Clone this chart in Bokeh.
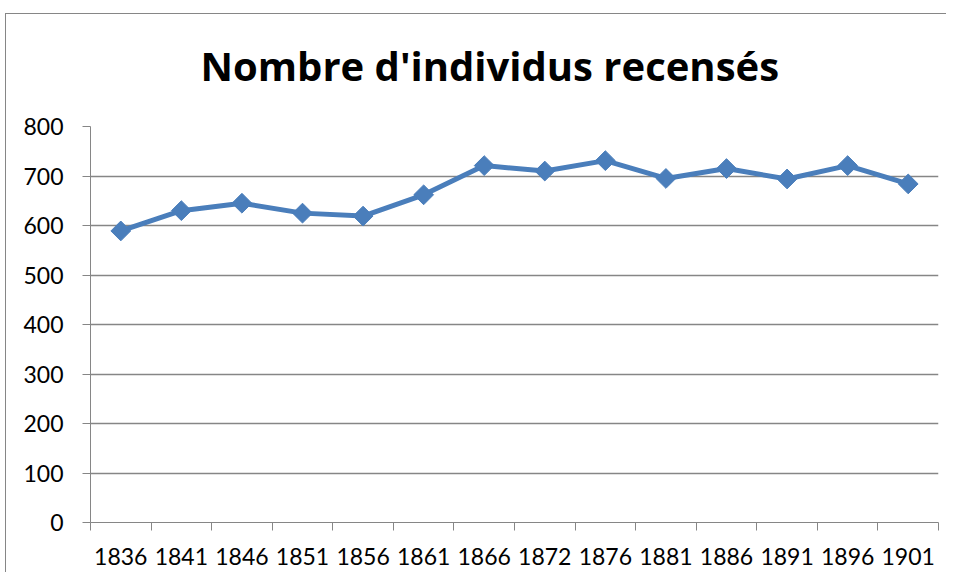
import numpy as np
from bokeh.plotting import figure
from bokeh.models import FixedTicker, Range1d, Title, ColumnDataSource
from bokeh.embed import file_html
from bokeh.resources import INLINE

years = ["1836", "1841", "1846", "1851", "1856", "1861", "1866",
         "1872", "1876", "1881", "1886", "1891", "1896", "1901"]
counts = [589, 630, 645, 625, 619, 662, 721, 710, 731, 695, 715, 694, 721, 684]
y_ticks = [0, 100, 200, 300, 400, 500, 600, 700, 800]
title_text = "Nombre d'individus recensés"

LINE_COLOR = "#4A7EBB"
GRID = "#868686"
FONT = "Lato"
TITLE_FONT = "Open Sans"

n = len(years)
xpos = np.arange(n) + 0.5
src = ColumnDataSource(dict(x=xpos, y=counts, year=years))

W, H = 941, 572
p = figure(width=W, height=H, output_backend="svg", toolbar_location=None,
           x_range=Range1d(0, n), y_range=Range1d(0, 800),
           min_border_left=85, min_border_right=8, min_border_top=126,
           min_border_bottom=50)
p.margin = (0, 0, 0, 5)
p.outline_line_color = None
p.background_fill_color = "white"
p.border_fill_color = None

t = Title(text=title_text, align="left",
          text_font=TITLE_FONT, text_font_size="40px", text_font_style="bold",
          text_color="black", offset=110, standoff=68)
p.add_layout(t, "above")

p.line("x", "y", source=src, line_color=LINE_COLOR, line_width=5)
p.scatter("x", "y", source=src, marker="square", angle=np.pi / 4, size=14,
          fill_color=LINE_COLOR, line_color=LINE_COLOR)

# x axis: labels at centres, tick marks at category boundaries
p.xaxis.ticker = FixedTicker(ticks=list(xpos), minor_ticks=list(range(n + 1)))
p.xaxis.major_label_overrides = {float(x): yr for x, yr in zip(xpos, years)}
p.xaxis.major_tick_line_color = None
p.xaxis.minor_tick_line_color = GRID
p.xaxis.minor_tick_out = 8
p.xaxis.minor_tick_in = 0
p.xaxis.axis_line_color = GRID
p.xaxis.major_label_standoff = 17
p.xaxis.major_label_text_font = FONT
p.xaxis.major_label_text_font_size = "23px"
p.xaxis.major_label_text_color = "black"

p.yaxis.ticker = FixedTicker(ticks=y_ticks)
p.yaxis.minor_tick_line_color = None
p.yaxis.major_tick_line_color = GRID
p.yaxis.major_tick_out = 8
p.yaxis.major_tick_in = 0
p.yaxis.axis_line_color = GRID
p.yaxis.major_label_standoff = 19
p.yaxis.major_label_text_font = FONT
p.yaxis.major_label_text_font_size = "23px"
p.yaxis.major_label_text_color = "black"

p.xgrid.grid_line_color = None
p.ygrid.grid_line_color = GRID
p.ygrid.grid_line_width = 1.5
p.ygrid.grid_line_alpha = 1.0

# chart-area border (top line 13px down, left line at the left edge)
p.styles = {
    "background": ("linear-gradient(#868686, #868686) 0 13px / 100% 1px no-repeat, "
                   "linear-gradient(#868686, #868686) 0 13px / 1px 100% no-repeat, "
                   "white"),
}

open("out.html", "w").write(file_html(p, INLINE))
